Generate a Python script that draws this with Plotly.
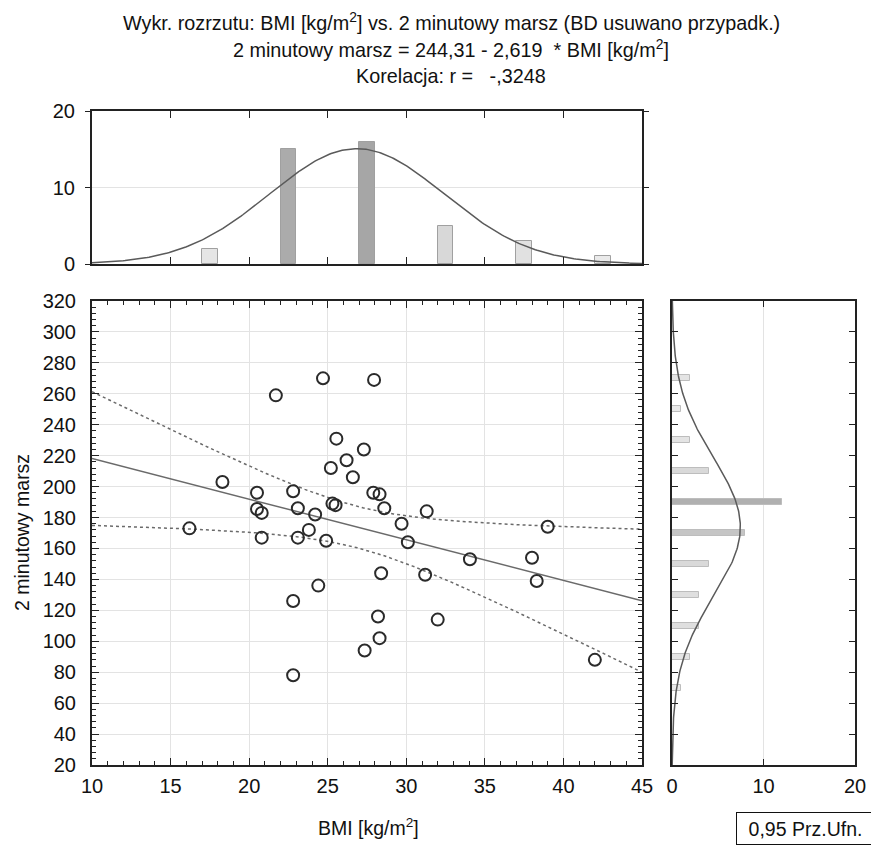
import numpy as np
import plotly.graph_objects as go

# BMI [kg/m2] and "2 minutowy marsz" result per subject
bmi = [24.7, 27.95, 21.7, 25.55, 27.3, 26.2, 25.2, 26.6, 18.3, 20.5,
       22.8, 27.9, 28.3, 20.5, 20.8, 23.1, 25.3, 25.5, 24.2, 28.6,
       31.3, 29.7, 39.0, 16.2, 23.8, 20.8, 23.1, 24.9, 24.4, 22.8,
       22.8, 27.35, 28.4, 28.2, 28.3, 30.1, 31.2, 32.0, 34.05, 38.0,
       38.3, 42.0]
marsz = [270, 269, 259, 231, 224, 217, 212, 206, 203, 196,
         197, 196, 195, 185.5, 183, 186, 189, 188, 182, 186,
         184, 176, 174, 173, 172, 167, 167, 165, 136, 126,
         78, 94, 144, 116, 102, 164, 143, 114, 153, 154,
         139, 88]

# histogram of BMI (bins of 5)
bmi_bins = [17.5, 22.5, 27.5, 32.5, 37.5, 42.5]
bmi_counts = [2, 15, 16, 5, 3, 1]
# histogram of marsz (bins of 20)
marsz_bins = [270, 250, 230, 210, 190, 170, 150, 130, 110, 90, 70]
marsz_counts = [2, 1, 2, 4, 12, 8, 4, 3, 3, 2, 1]

title_lines = [
    "Wykr. rozrzutu: BMI [kg/m<sup>2</sup>] vs. 2 minutowy marsz (BD usuwano przypadk.)",
    "2 minutowy marsz = 244,31 - 2,619  * BMI [kg/m<sup>2</sup>]",
    "Korelacja: r =   -,3248",
]

FONT = "Liberation Sans, Arial, sans-serif"
# page has an 8px body margin: the figure starts at (8, 8) and runs to the window edge
OFF = 8
W, H = 879 - OFF, 846 - OFF

x = np.array(bmi)
y = np.array(marsz)
n = len(x)

# regression + 95% confidence band
slope, icpt = np.polyfit(x, y, 1)
xs = np.linspace(10, 45, 200)
yfit = icpt + slope * xs
resid = y - (icpt + slope * x)
s = np.sqrt(np.sum(resid ** 2) / (n - 2))
sxx = np.sum((x - x.mean()) ** 2)
tval = 2.021
half = tval * s * np.sqrt(1.0 / n + (xs - x.mean()) ** 2 / sxx)

# normal curves for the marginal histograms
def normcurve(v, grid, binw):
    m, sd = np.mean(v), np.std(v, ddof=1)
    return len(v) * binw * np.exp(-0.5 * ((grid - m) / sd) ** 2) / (sd * np.sqrt(2 * np.pi))

gx = np.linspace(10, 45, 300)
gy = np.linspace(20, 320, 300)
cx = normcurve(x, gx, 5)
cy = normcurve(y, gy, 20)

fig = go.Figure()

# --- scatter panel
fig.add_trace(go.Scatter(x=xs, y=yfit, mode="lines", line=dict(color="#6a6a6a", width=1.5),
                         xaxis="x", yaxis="y", hoverinfo="skip"))
fig.add_trace(go.Scatter(x=xs, y=yfit + half, mode="lines",
                         line=dict(color="#6a6a6a", width=1.5, dash="3px,3px"), xaxis="x", yaxis="y"))
fig.add_trace(go.Scatter(x=xs, y=yfit - half, mode="lines",
                         line=dict(color="#6a6a6a", width=1.5, dash="3px,3px"), xaxis="x", yaxis="y"))
fig.add_trace(go.Scatter(x=bmi, y=marsz, mode="markers",
                         marker=dict(symbol="circle-open", size=12, color="#2a2a2a", line=dict(width=2)),
                         xaxis="x", yaxis="y"))

# --- top histogram
fig.add_trace(go.Bar(x=bmi_bins, y=bmi_counts, width=1.0, xaxis="x2", yaxis="y2",
                     marker=dict(color=bmi_counts, colorscale=[[0, "#eeeeee"], [1, "#a6a6a6"]],
                                 cmin=0, cmax=16, line=dict(color="#a0a0a0", width=1))))
fig.add_trace(go.Scatter(x=gx, y=cx, mode="lines", line=dict(color="#5a5a5a", width=1.5),
                         xaxis="x2", yaxis="y2"))

# --- right histogram
fig.add_trace(go.Bar(x=marsz_counts, y=marsz_bins, orientation="h", width=4, xaxis="x3", yaxis="y3",
                     marker=dict(color=marsz_counts, colorscale=[[0, "#eeeeee"], [1, "#b0b0b0"]],
                                 cmin=0, cmax=12, line=dict(color="#bdbdbd", width=1))))
fig.add_trace(go.Scatter(x=cy, y=gy, mode="lines", line=dict(color="#5a5a5a", width=1.5),
                         xaxis="x3", yaxis="y3"))

# window pixel -> paper helpers
def px(v):
    return (v - OFF) / W

def py(v):
    return 1 - (v - OFF) / H

axline = dict(showline=True, linecolor="#222", linewidth=2, mirror="allticks", zeroline=False,
              tickcolor="#222", automargin=False)
tf = dict(family=FONT, size=20, color="#111")

fig.update_layout(
    width=W, height=H,
    margin=dict(l=0, r=0, t=0, b=0),
    paper_bgcolor="white", plot_bgcolor="white",
    showlegend=False,
    bargap=0,
    font=dict(family=FONT, color="#111"),
    xaxis=dict(domain=[px(92), px(642)], range=[10, 45], dtick=5, ticks="inside", ticklen=7,
               showgrid=True, gridcolor="#e3e3e3", gridwidth=1, tickfont=tf, ticklabelstandoff=2,
               minor=dict(dtick=1, ticks="inside", ticklen=4, tickcolor="#222", showgrid=False),
               anchor="y", **axline),
    yaxis=dict(domain=[py(765), py(301)], range=[20, 320], dtick=20, ticks="inside", ticklen=7,
               showgrid=True, gridcolor="#e3e3e3", gridwidth=1, tickfont=tf, ticklabelstandoff=10,
               minor=dict(dtick=4, ticks="inside", ticklen=4, tickcolor="#222", showgrid=False),
               anchor="x", **axline),
    xaxis2=dict(domain=[px(92), px(642)], range=[10, 45], dtick=5, ticks="inside", ticklen=7,
                showticklabels=False, showgrid=False, anchor="y2", **axline),
    yaxis2=dict(domain=[py(264), py(111)], range=[0, 20], dtick=10, ticks="outside", ticklen=5,
                showgrid=True, gridcolor="#e3e3e3", tickfont=tf, ticklabelstandoff=6,
                anchor="x2", **axline),
    xaxis3=dict(domain=[px(672), px(855)], range=[0, 20], dtick=10, ticks="inside", ticklen=6,
                showgrid=True, gridcolor="#e3e3e3", tickfont=tf, ticklabelstandoff=2,
                anchor="y3", **axline),
    yaxis3=dict(domain=[py(765), py(301)], range=[20, 320], dtick=20, ticks="inside", ticklen=6,
                showticklabels=False, showgrid=False, anchor="x3", **axline),
)

txt = dict(xref="paper", yref="paper", showarrow=False, xanchor="center", yanchor="middle")
annots = []
for i, t in enumerate(title_lines):
    annots.append(dict(text=t, x=px(451), y=py(21 + 27.5 * i),
                       font=dict(family=FONT, size=19.8, color="#111"), **txt))
annots.append(dict(text="2 minutowy marsz", x=px(22), y=py(533), textangle=-90,
                   font=dict(family=FONT, size=19.5, color="#111"), **txt))
annots.append(dict(text="BMI [kg/m<sup>2</sup>]", x=px(368), y=py(827),
                   font=dict(family=FONT, size=19.5, color="#111"), **txt))
annots.append(dict(text="0,95 Prz.Ufn.", x=px(805), y=py(828), width=133, height=27,
                   bordercolor="#111", borderwidth=1, borderpad=2, bgcolor="white",
                   font=dict(family=FONT, size=19.5, color="#111"), **txt))
fig.update_layout(annotations=annots)

fig.write_html("out.html")
